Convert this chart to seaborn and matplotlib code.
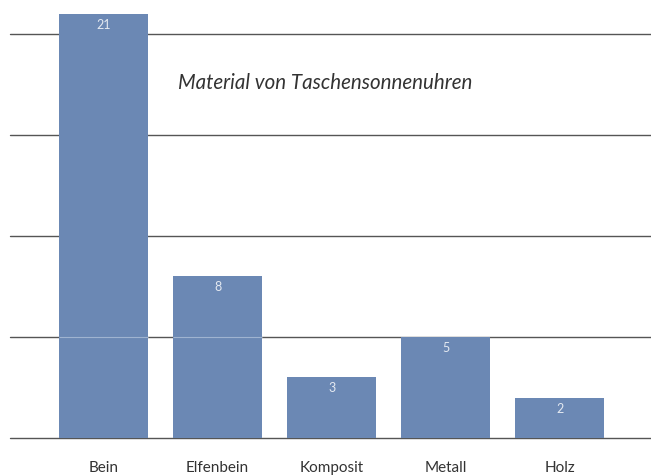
import seaborn as sns
import matplotlib.pyplot as plt
import pandas as pd

# data
materials = ["Bein", "Elfenbein", "Komposit", "Metall", "Holz"]
counts = [21, 8, 3, 5, 2]
title = "Material von Taschensonnenuhren"

df = pd.DataFrame({"Material": materials, "Anzahl": counts})

sns.set_style("white")
plt.rcParams['font.family'] = ['Lato', 'DejaVu Sans']

fig = plt.figure(figsize=(6.51, 4.77), dpi=100)
ax = fig.add_axes([10 / 651, 38 / 477, 641 / 651, 439 / 477])

bar_color = "#6b88b4"
sns.barplot(data=df, x="Material", y="Anzahl", color=bar_color,
            width=0.78, saturation=1, linewidth=0, ax=ax, zorder=2)

# horizontal grid lines behind bars
for yv in [0, 5, 10, 15, 20]:
    ax.axhline(yv, color="#555555", lw=1.0, zorder=1, clip_on=False)

# faint line at 5 visible through the tall bars
for p in ax.patches:
    if p.get_height() > 5:
        ax.hlines(5, p.get_x(), p.get_x() + p.get_width(),
                  color="#9fb3d0", lw=0.8, zorder=3)

for i, v in enumerate(counts):
    ax.text(i, v - 0.2, str(v), ha="center", va="top", color="#e4e9f1",
            fontsize=9, zorder=4)

ax.text(0.65, 17.6, title, fontsize=14.8, style="italic", color="#333333",
        ha="left", va="center")

ax.set_xlim(-0.82, 4.8)
ax.set_ylim(0, 21.73)
ax.set_xlabel("")
ax.set_ylabel("")
ax.set_yticks([])
ax.tick_params(axis="x", length=0, pad=16, labelsize=11, labelcolor="#333333")
for s in ax.spines.values():
    s.set_visible(False)

fig.savefig("out.png", dpi=100)
